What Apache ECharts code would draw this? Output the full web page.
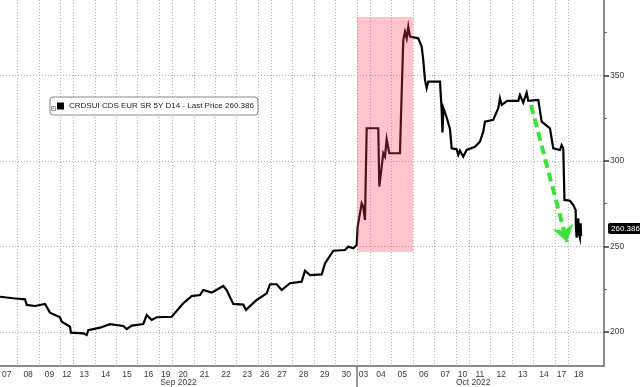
<!DOCTYPE html>
<html><head><meta charset="utf-8">
<script src="https://cdn.jsdelivr.net/npm/echarts@6.0.0/dist/echarts.min.js"></script>
<style>html,body{margin:0;padding:0;background:#fff}#c{width:640px;height:387px}</style>
</head><body><div id="c"></div>
<script>
// ---- data ----
const dayLabels = ['07','08','09','12','13','14','15','16','19','20','21','22','23','26','27','28','29','30',
                   '03','04','05','06','07','10','11','12','13','14','17','18'];
const dayMonths = ['Sep 2022','Sep 2022','Sep 2022','Sep 2022','Sep 2022','Sep 2022','Sep 2022','Sep 2022','Sep 2022',
                   'Sep 2022','Sep 2022','Sep 2022','Sep 2022','Sep 2022','Sep 2022','Sep 2022','Sep 2022','Sep 2022',
                   'Oct 2022','Oct 2022','Oct 2022','Oct 2022','Oct 2022','Oct 2022','Oct 2022','Oct 2022','Oct 2022',
                   'Oct 2022','Oct 2022','Oct 2022'];
// session length of each trading day (Mondays are shorter sessions on the chart)
const sessionLengths = [1,1,1,0.62,1,1,1,1,0.62,1,1,1,1,0.62,1,1,1,1,
                        0.62,1,1,1,1,0.62,1,1,1,1,0.62,1];
// time in trading-session units from the open of Sep 07
const times = [0.187,0.808,1.354,1.434,1.822,2.289,2.522,2.989,3.069,3.456,
  3.503,4.078,4.236,4.311,4.858,5.325,5.946,6.105,6.338,6.880,
  7.039,7.272,7.506,8.207,8.748,9.141,9.528,9.682,10.075,10.617,
  10.775,11.083,11.551,11.677,12.177,12.644,12.798,13.111,13.344,13.732,
  14.278,14.433,14.666,15.213,15.367,15.755,16.301,16.455,16.689,16.848,
  16.894,17.081,17.156,17.235,17.315,17.857,17.903,18.015,18.090,18.169,
  18.249,18.370,18.870,18.917,19.024,19.103,19.183,19.258,19.337,19.725,
  19.884,19.958,20.038,20.117,20.192,20.271,20.738,20.817,20.855,20.901,
  21.051,21.205,21.284,21.518,21.593,21.672,21.826,21.906,21.985,22.373,
  22.606,22.760,22.840,23.227,23.461,23.540,23.620,23.881,24.395,24.475,
  24.629,24.788,24.862,25.330,25.488,25.876,26.030,26.343,26.422,26.497,
  26.553,26.810,26.964,27.076,27.090,27.123,27.169,27.197,27.230,27.277,27.310,
  27.33];
const values = [220.5,219.6,219.0,215.7,215.1,216.3,211.2,208.5,205.9,203.0,
  199.5,199.1,198.1,201.0,202.4,204.5,203.4,201.6,203.6,204.5,
  209.8,206.9,208.5,208.8,216.7,220.9,221.5,224.4,222.9,226.8,
  224.4,216.3,215.9,212.8,218.6,222.5,227.8,227.8,224.4,228.4,
  229.3,235.7,233.2,233.6,240.0,247.4,247.8,249.8,248.8,250.8,
  261.5,275.1,273.1,265.4,319.0,319.0,284.9,296.5,304.4,302.4,
  312.6,304.4,304.4,325.8,370.6,375.5,371.6,378.4,372.6,371.6,
  366.7,358.9,347.3,342.4,346.3,345.3,346.3,329.7,316.5,330.7,
  325.3,318.6,307.3,306.7,303.4,305.9,302.4,304.4,306.3,308.2,
  311.2,317.0,322.9,323.9,330.7,336.5,332.6,335.0,335.0,338.5,
  334.0,339.8,335.0,335.6,322.9,319.0,307.3,306.3,309.2,307.3,
  277.1,276.6,274.1,271.2,260.5,255.0,261.5,266.4,257.6,255.0,263.4,
  256.0];
const seriesName = 'CRDSUI CDS EUR SR 5Y D14';
const lastPrice = 260.386;
const yMajorTicks = [200,250,300,350];
const yMinorTicks = [225,275,325,375];
const yRange = [180,394];
// highlighted days (Oct 03 - Oct 05) and value band
const highlightDays = [18,20];
const highlightValues = [246.6,384];
// trend arrow (time, value)
const arrowStart = [24.99,332.6];
const arrowEnd = [26.67,252.5];

// ---- derived ----
const starts = [];
let acc = 0;
sessionLengths.forEach(l => { starts.push(acc); acc += l; });
const ends = starts.map((s,i) => s + sessionLengths[i]);
const centers = starts.map((s,i) => s + sessionLengths[i]/2);
const boundaries = starts.slice(1);
const monthNames = [...new Set(dayMonths)];
const monthCenters = monthNames.map(m => {
  const idx = dayMonths.map((d,i)=>d===m?i:-1).filter(i=>i>=0);
  const a = Math.max(starts[idx[0]], times[0]);
  const b = ends[idx[idx.length-1]];
  return (a+b)/2;
});
const monthBreaks = monthNames.slice(1).map(m => starts[dayMonths.indexOf(m)]);
const xMin = times[0];
const xMax = 28.4;
const lineData = times.map((t,i)=>[t, values[i]]);

const labelFont = 'Liberation Sans, Arial, sans-serif';
const chart = echarts.init(document.getElementById('c'), null, {renderer:'canvas'});
chart.setOption({
  animation: false,
  backgroundColor: '#fff',
  grid: {left:0, right:36, top:0, bottom:21, containLabel:false, outerBoundsMode:'none'},
  legend: {
    show: true, left: 50, top: 97, data:[seriesName],
    icon: 'rect', itemWidth: 7, itemHeight: 7,
    padding: [5,4,5,7],
    backgroundColor: '#fff', borderColor: '#888', borderWidth: 1, borderRadius: 3,
    formatter: n => n + ' - Last Price ' + lastPrice.toFixed(3),
    textStyle: {fontSize: 8, color: '#222', fontFamily: labelFont}
  },
  xAxis: [{
    type:'value', min:xMin, max:xMax,
    axisLine:{show:true, lineStyle:{color:'#666', width:1.5}},
    axisTick:{show:false, customValues: boundaries},
    splitLine:{show:true, lineStyle:{color:'#b0b0b0', type:[1,2], width:1}},
    axisLabel:{show:true, customValues: centers, margin:4, fontSize:8.5, color:'#3a3a3a', fontFamily: labelFont,
      formatter: v => { const i = centers.findIndex(c=>Math.abs(c-v)<1e-6); return i>=0?dayLabels[i]:''; }}
  },{
    type:'value', min:xMin, max:xMax, position:'bottom',
    axisLine:{show:false},
    axisTick:{show:true, customValues: monthBreaks, length:21, lineStyle:{color:'#777', width:1.5}},
    splitLine:{show:false},
    axisLabel:{show:true, customValues: monthCenters, margin:12, fontSize:8.5, color:'#3a3a3a', fontFamily: labelFont,
      formatter: v => { const i = monthCenters.findIndex(c=>Math.abs(c-v)<1e-6); return i>=0?monthNames[i]:''; }}
  }],
  yAxis: [{
    type:'value', position:'right', min:yRange[0], max:yRange[1],
    axisLine:{show:true, lineStyle:{color:'#666', width:1.5}},
    axisTick:{show:true, customValues: yMajorTicks, length:5, lineStyle:{color:'#333', width:1.5}},
    splitLine:{show:true, lineStyle:{color:'#b0b0b0', type:[1,2], width:1}},
    axisLabel:{show:true, customValues: yMajorTicks, margin:6, fontSize:8.5, color:'#3a3a3a', fontFamily: labelFont}
  },{
    type:'value', position:'right', min:yRange[0], max:yRange[1],
    axisLine:{show:false},
    axisTick:{show:true, customValues: yMinorTicks, length:3, lineStyle:{color:'#666'}},
    splitLine:{show:false}, axisLabel:{show:false}
  },{
    type:'value', position:'right', min:yRange[0], max:yRange[1],
    axisLine:{show:false}, axisTick:{show:false}, splitLine:{show:false},
    axisLabel:{show:true, customValues:[lastPrice], margin:4, fontSize:8, color:'#fff', fontFamily: labelFont,
      backgroundColor:'#000', padding:[2,2,1,3], borderRadius:2,
      formatter: v => v.toFixed(3)}
  }],
  graphic: [{
    type:'rect', left:51, top:106, z:100,
    shape:{width:4, height:4}, style:{fill:'#fff', stroke:'#999', lineWidth:1}
  },{
    type:'rect', left:52.5, top:107.5, z:101,
    shape:{width:1.5, height:1.5}, style:{fill:'#999'}
  }],
  series: [{
    name: seriesName, type:'line', data: lineData, showSymbol:false, symbol:'none',
    xAxisIndex:0, yAxisIndex:0, z:2,
    lineStyle:{color:'#000', width:2.2, join:'miter'}, itemStyle:{color:'#000'}
  },{
    name:'highlight', type:'line', data:[], xAxisIndex:0, yAxisIndex:0, z:5, silent:true,
    markArea:{silent:true, z:10, itemStyle:{color:'rgba(255,58,85,0.3)'},
      data:[[{coord:[starts[highlightDays[0]], highlightValues[0]]},
             {coord:[ends[highlightDays[1]], highlightValues[1]]}]]}
  },{
    name:'arrow', type:'line', data:[], xAxisIndex:0, yAxisIndex:0, z:6, silent:true,
    markLine:{silent:true, z:11, symbol:['none','arrow'], symbolSize:16,
      label:{show:false},
      lineStyle:{color:'#3fe03a', width:4, type:[9,5]},
      data:[[{coord:arrowStart},{coord:arrowEnd}]]}
  }]
});
</script></body></html>
